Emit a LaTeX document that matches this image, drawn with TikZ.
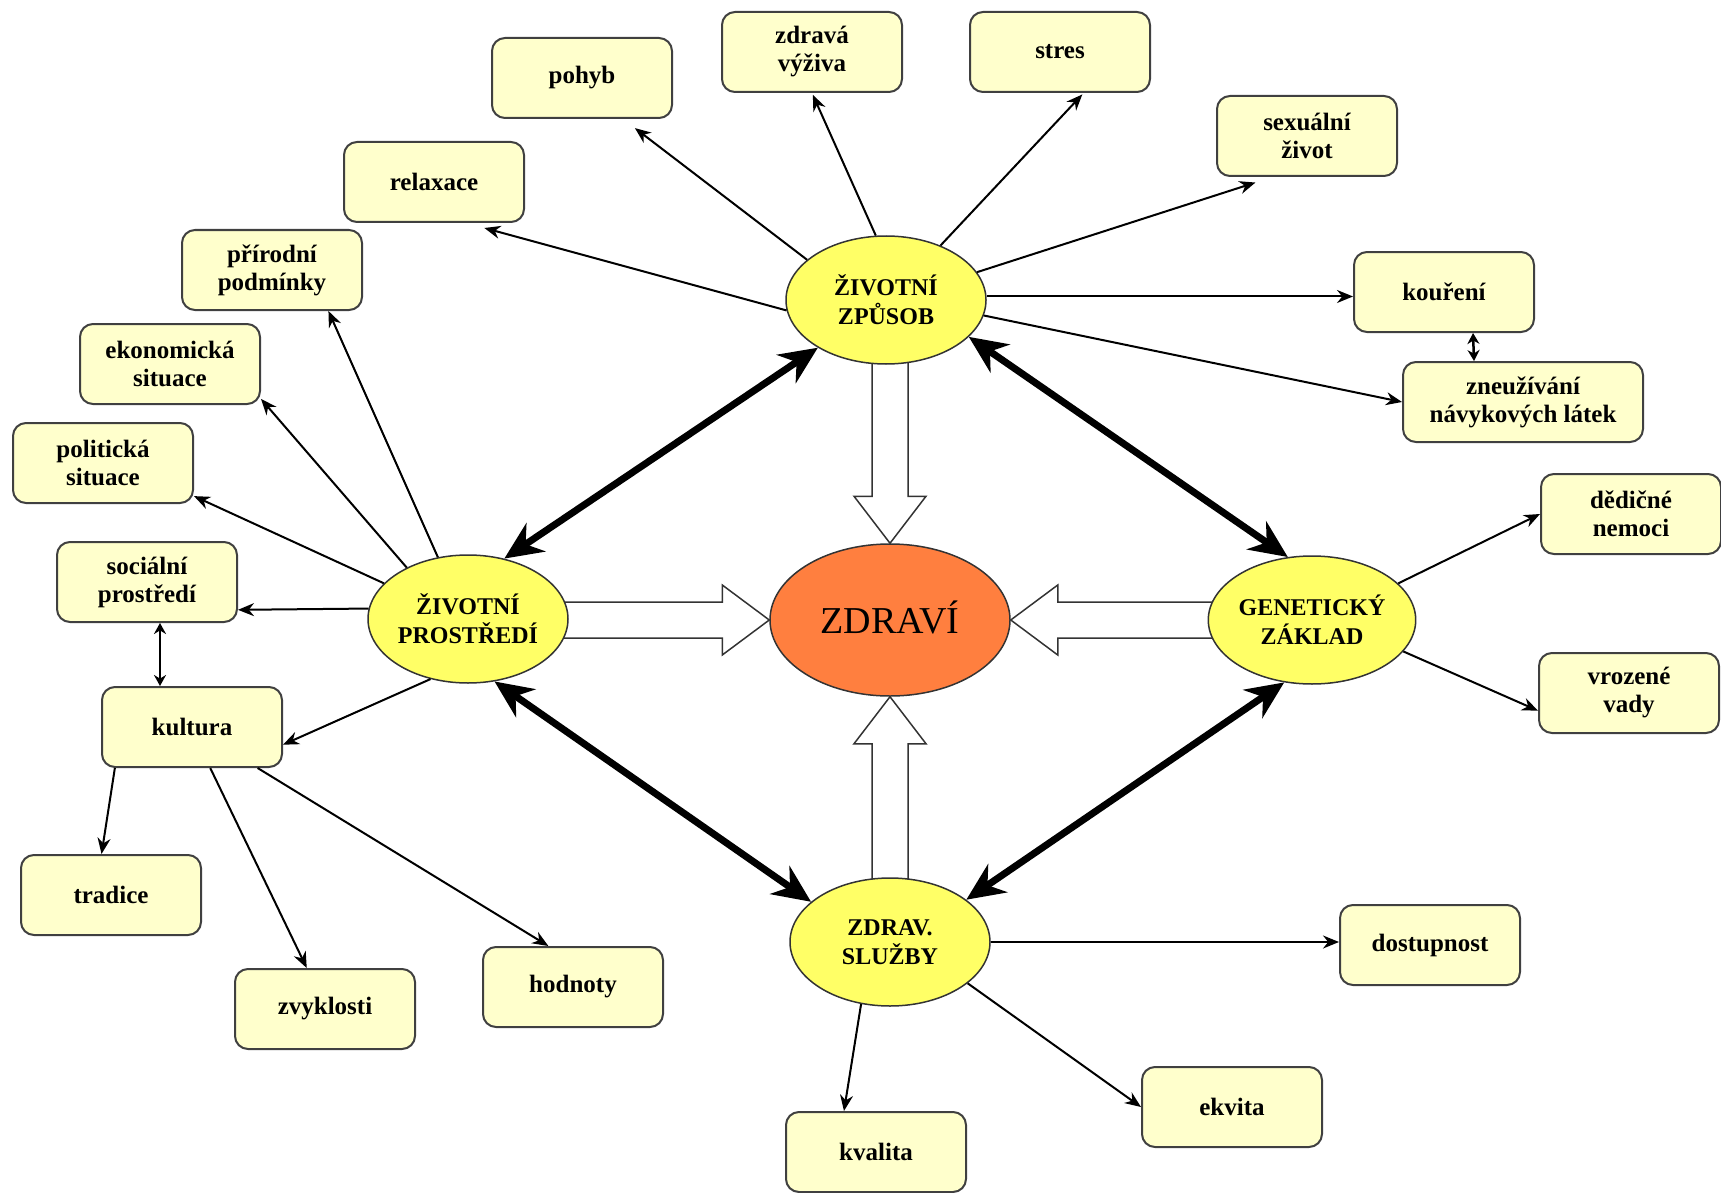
\documentclass[tikz,border=0pt]{standalone}
\usepackage{fontspec}
\setmainfont{Liberation Serif}
\usetikzlibrary{arrows.meta,calc,shapes.geometric,backgrounds}

\definecolor{boxyellow}{HTML}{FFFFCC}
\definecolor{ellyellow}{HTML}{FFFF66}
\definecolor{healthorange}{HTML}{FF7F3F}

\begin{document}
\begin{tikzpicture}[x=1pt,y=-1pt,
		factor/.style={
			ellipse,
			draw=black!80,
			line width=1.5pt,
			fill=ellyellow,
			minimum width=200pt,
			minimum height=128pt,
			inner sep=0pt,
			align=center,
			font=\bfseries\fontsize{24}{29}\selectfont
		},
		info/.style={
			rectangle,
			rounded corners=13pt,
			draw=black!75,
			line width=2pt,
			fill=boxyellow,
			minimum width=180pt,
			minimum height=80pt,
			align=center,
			font=\bfseries\fontsize{25}{28}\selectfont
		},
		conn/.style={-{Stealth[length=16pt,width=13pt]}, line width=2pt},
		link/.style={{Stealth[length=11pt,width=12pt]}-{Stealth[length=11pt,width=12pt]}, line width=2.5pt},
		bond/.style={{Stealth[length=38pt,width=34pt]}-{Stealth[length=38pt,width=34pt]}, line width=7pt},
		block/.style={draw=black!80, line width=1.5pt}]

		\useasboundingbox (0,0) rectangle (1721,1193);

		%main factors
		\node[factor] (zp) at (886,300) {ŽIVOTNÍ\\ZPŮSOB};
		\node[factor] (pr) at (468,619) {ŽIVOTNÍ\\PROSTŘEDÍ};
		\node[factor] (gz) at (1312,620) {GENETICKÝ\\ZÁKLAD};
		\node[factor] (zs) at (890,942) {ZDRAV.\\SLUŽBY};
		\node[factor,
			fill=healthorange,
			minimum width=240pt,
			minimum height=152pt,
			font=\fontsize{38}{44}\selectfont] (zdr) at (890,620) {\raisebox{6pt}{ZDRAVÍ}};

		%boxes
		\node[info] (pohyb) at (582,78) {pohyb};
		\node[info] (vyziva) at (812,52) {zdravá\\výživa};
		\node[info] (stres) at (1060,52) {stres};
		\node[info] (sexual) at (1307,136) {sexuální\\život};
		\node[info] (relax) at (434,182) {relaxace};
		\node[info] (prirodni) at (272,270) {přírodní\\podmínky};
		\node[info] (ekon) at (170,364) {ekonomická\\situace};
		\node[info] (polit) at (103,463) {politická\\situace};
		\node[info] (social) at (147,582) {sociální\\prostředí};
		\node[info] (kultura) at (192,727) {kultura};
		\node[info] (tradice) at (111,895) {tradice};
		\node[info] (zvyk) at (325,1009) {zvyklosti};
		\node[info] (hodnoty) at (573,987) {hodnoty};
		\node[info] (koureni) at (1444,292) {kouření};
		\node[info, minimum width=240pt] (navyk) at (1523,402) {zneužívání\\návykových látek};
		\node[info] (dedicne) at (1631,514) {dědičné\\nemoci};
		\node[info] (vrozene) at (1629,693) {vrozené\\vady};
		\node[info] (dostup) at (1430,945) {dostupnost};
		\node[info] (ekvita) at (1232,1107) {ekvita};
		\node[info] (kvalita) at (876,1152) {kvalita};

		%hollow arrows into ZDRAVI
		\begin{pgfonlayer}{background}
			\draw[block] ($(zdr.north |- zp.south)+(-18,-10)$) -- ($(zdr.north)+(-18,-47)$) -- ($(zdr.north)+(-36,-47)$)
				-- (zdr.north) -- ($(zdr.north)+(36,-47)$) -- ($(zdr.north)+(18,-47)$) -- ($(zdr.north |- zp.south)+(18,-10)$);
			\draw[block] ($(zdr.south |- zs.north)+(-18,10)$) -- ($(zdr.south)+(-18,47)$) -- ($(zdr.south)+(-36,47)$)
				-- (zdr.south) -- ($(zdr.south)+(36,47)$) -- ($(zdr.south)+(18,47)$) -- ($(zdr.south |- zs.north)+(18,10)$);
			\draw[block] ($(pr.east |- zdr.west)+(-10,-18)$) -- ($(zdr.west)+(-47,-18)$) -- ($(zdr.west)+(-47,-35)$)
				-- (zdr.west) -- ($(zdr.west)+(-47,35)$) -- ($(zdr.west)+(-47,18)$) -- ($(pr.east |- zdr.west)+(-10,18)$);
			\draw[block] ($(gz.west |- zdr.east)+(10,-18)$) -- ($(zdr.east)+(47,-18)$) -- ($(zdr.east)+(47,-35)$)
				-- (zdr.east) -- ($(zdr.east)+(47,35)$) -- ($(zdr.east)+(47,18)$) -- ($(gz.west |- zdr.east)+(10,18)$);
		\end{pgfonlayer}

		%thick links between factors
		\draw[bond] (zp.-145) -- (pr.59);
		\draw[bond] (zp.-24) -- (gz.111);
		\draw[bond] (pr.-67) -- (zs.153);
		\draw[bond] (gz.-114) -- (zs.29);

		%zivotni zpusob
		\draw[conn, shorten >=15pt] (zp.153) -- (pohyb.-45);
		\draw[conn, shorten >=2pt] (zp.99) -- (vyziva.south);
		\draw[conn, shorten >=2pt] (zp.45) -- (stres.-60);
		\draw[conn, shorten >=18pt] (zp.17) -- (sexual.-130);
		\draw[conn] (zp.2) -- (koureni.west |- zp.2);
		\draw[conn] (zp.-9) -- (navyk.west);
		\draw[conn, shorten >=19pt] (zp.-174) -- (relax.-52);
		\draw[link] ($(koureni.south)+(29,0)$) -- ($(navyk.north)+(-49,0)$);

		%zivotni prostredi
		\draw[conn] (pr.116) -- (prirodni.-36);
		\draw[conn] (pr.140) -- (ekon.-21);
		\draw[conn] (pr.157) -- (polit.-20);
		\draw[conn] (pr.174) -- (social.-17);
		\draw[conn] (pr.-122) -- (kultura.-11);
		\draw[link] ($(social.south)+(13,0)$) -- ($(kultura.north)+(-32,0)$);

		%kultura
		\draw[conn] (kultura.-152) -- (tradice.103);
		\draw[conn] (kultura.-66) -- (zvyk.114);
		\draw[conn] (kultura.-32) -- (hodnoty.121);

		%geneticky zaklad
		\draw[conn] (gz.23) -- (dedicne.west);
		\draw[conn] (gz.-19) -- (vrozene.-169);

		%zdrav. sluzby
		\draw[conn] (zs.east) -- (dostup.west |- zs.east);
		\draw[conn] (zs.-28) -- (ekvita.west);
		\draw[conn] (zs.-115) -- (kvalita.128);

	\end{tikzpicture}
\end{document}
